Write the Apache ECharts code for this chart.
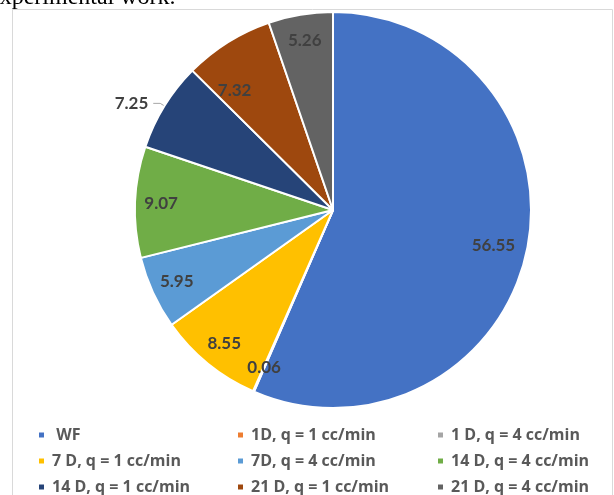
<!DOCTYPE html>
<html>
<head>
<meta charset="utf-8">
<script src="https://cdn.jsdelivr.net/npm/echarts@6/dist/echarts.min.js"></script>
<style>
  html, body { margin: 0; padding: 0; background: #ffffff; }
  #chart { width: 614px; height: 495px; }
</style>
</head>
<body>
<div id="chart"></div>
<script>
// Share of each test condition (percent), clockwise from 12 o'clock
const categories = [
  'WF',
  '1D, q = 1 cc/min',
  '1 D, q = 4 cc/min',
  '7 D, q = 1 cc/min',
  '7D, q = 4 cc/min',
  '14 D, q = 4 cc/min',
  '14 D, q = 1 cc/min',
  '21 D, q = 1 cc/min',
  '21 D, q = 4 cc/min'
];
const values = [56.55, 0.06, 0.03, 8.55, 5.95, 9.07, 7.25, 7.32, 5.26];
const colors = ['#4472C4', '#ED7D31', '#A5A5A5', '#FFC000', '#5B9BD5',
                '#70AD47', '#264478', '#9E480E', '#636363'];

// Legend columns (reading order of the three-column key)
const legendColumns = [
  ['WF', '7 D, q = 1 cc/min', '14 D, q = 1 cc/min'],
  ['1D, q = 1 cc/min', '7D, q = 4 cc/min', '21 D, q = 1 cc/min'],
  ['1 D, q = 4 cc/min', '14 D, q = 4 cc/min', '21 D, q = 4 cc/min']
];
// Slice whose value label sits outside with a leader line
const outsideLabelName = '14 D, q = 1 cc/min';

const chart = echarts.init(document.getElementById('chart'), null, { renderer: 'canvas' });

const CENTER = [333, 210];
const RADIUS = 198;

// Small label nudges (px) for a couple of wedges
const labelNudge = {
  'WF': [-8, 0],
  '21 D, q = 1 cc/min': [-7, 26]
};

const sliceData = categories.map((name, i) => ({
  name: name,
  value: values[i],
  itemStyle: { color: colors[i] }
}));

// Transparent ring carrying the value labels near the rim
const labelData = categories.map((name, i) => {
  const item = { name: name, value: values[i] };
  if (name === outsideLabelName) {
    item.label = { position: 'outside' };
    item.labelLine = { show: true, length: 5, length2: 7,
      lineStyle: { color: '#a6a6a6', width: 1 } };
  }
  if (labelNudge[name]) {
    item.label = { offset: labelNudge[name] };
  }
  return item;
});

const legendLefts = [37, 236, 436];
const legends = legendColumns.map((col, k) => ({
  orient: 'vertical',
  left: legendLefts[k],
  top: 425,
  height: 100,
  padding: 0,
  data: col,
  icon: 'rect',
  itemWidth: 7,
  itemHeight: 7,
  itemGap: 6,
  selectedMode: false,
  formatter: name => (name === 'WF' ? ' ' + name : name),
  textStyle: {
    fontFamily: 'Open Sans',
    fontWeight: 'bold',
    fontSize: 16,
    color: '#595959',
    lineHeight: 20,
    padding: [0, 0, 0, 2]
  }
}));

const option = {
  backgroundColor: '#ffffff',
  animation: false,
  graphic: [
    {
      type: 'rect',
      shape: { x: 12.5, y: 9.5, width: 600, height: 520 },
      style: { fill: 'none', stroke: '#d9d9d9', lineWidth: 1 },
      silent: true
    },
    {
      type: 'text',
      left: -11,
      top: -14,
      style: {
        text: 'experimental work.',
        font: '24px "Liberation Serif"',
        fill: '#000000'
      },
      silent: true
    }
  ],
  legend: legends,
  series: [
    {
      type: 'pie',
      center: CENTER,
      radius: [0, RADIUS],
      startAngle: 90,
      clockwise: true,
      silent: true,
      label: { show: false },
      labelLine: { show: false },
      itemStyle: { borderColor: '#ffffff', borderWidth: 2 },
      data: sliceData
    },
    {
      type: 'pie',
      center: CENTER,
      radius: [140, RADIUS],
      startAngle: 90,
      clockwise: true,
      silent: true,
      avoidLabelOverlap: false,
      itemStyle: { color: 'transparent', borderWidth: 0 },
      label: {
        show: true,
        position: 'inside',
        formatter: p => p.value.toFixed(2),
        fontFamily: 'Lato',
        fontWeight: 'bold',
        fontSize: 17,
        color: '#404040'
      },
      labelLine: { show: false },
      data: labelData
    }
  ]
};

chart.setOption(option);
</script>
</body>
</html>
